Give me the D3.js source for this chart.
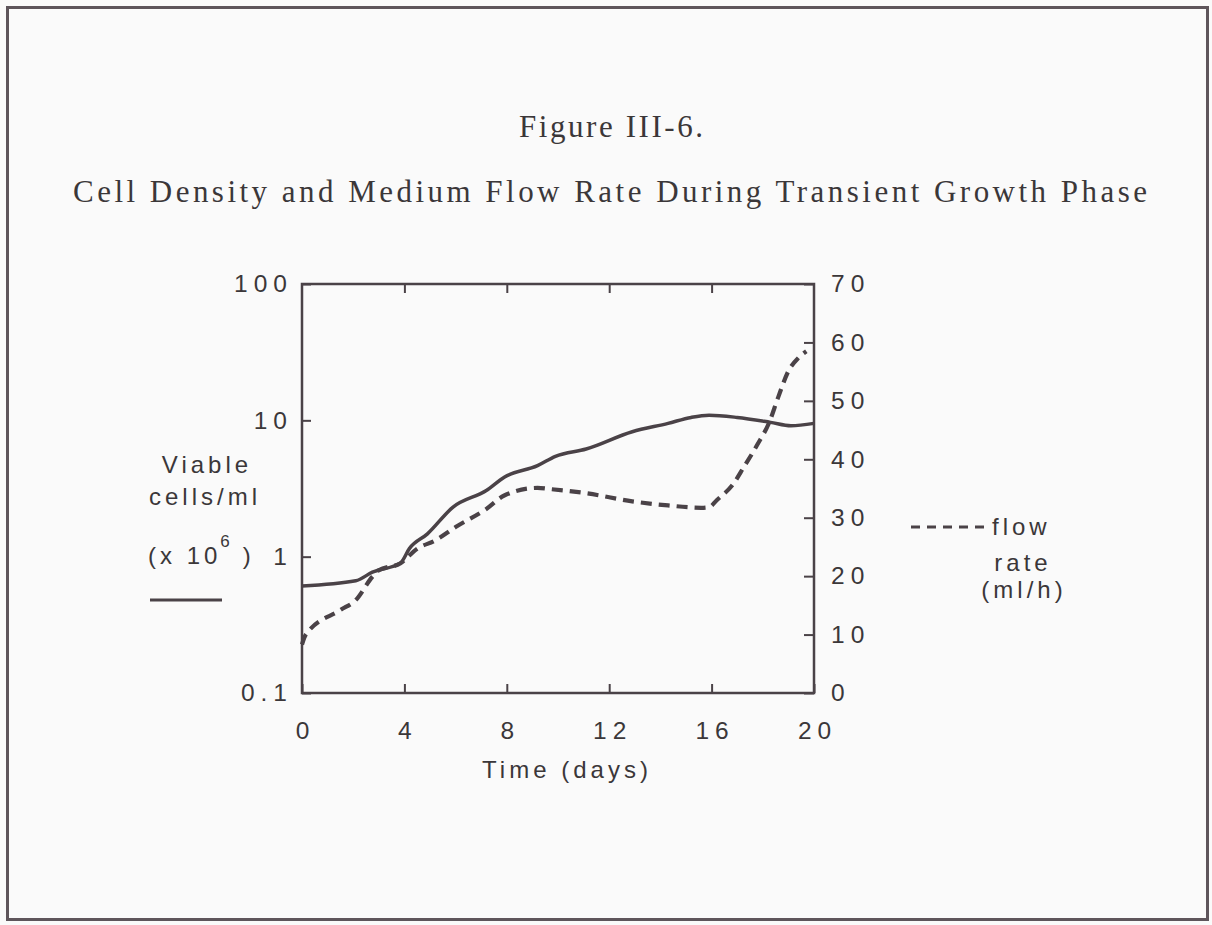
<!DOCTYPE html>
<html>
<head>
<meta charset="utf-8">
<script src="https://cdn.jsdelivr.net/npm/d3@7"></script>
<style>
  html, body { margin: 0; padding: 0; background: #fafafa; }
  svg { display: block; }
</style>
</head>
<body>
<svg id="chart" width="1212" height="925"></svg>
<script>
// Viable cell density (x 10^6 cells/ml) by day
const densityDays   = [0, 2.1, 2.75, 3.85, 4.2, 4.9, 5.9, 7.2, 7.9, 9.2, 9.9, 11.1, 12.9, 14.3, 15.2, 15.9, 17.0, 18.3, 19.1, 20];
const densityValues = [0.61, 0.665, 0.77, 0.90, 1.15, 1.47, 2.31, 3.06, 3.83, 4.65, 5.45, 6.16, 8.25, 9.5, 10.5, 10.9, 10.5, 9.66, 9.12, 9.5];

// Medium flow rate (ml/h) by day
const flowDays   = [0, 0.15, 1.5, 2.1, 2.75, 3.0, 3.85, 4.5, 5.2, 6.0, 7.2, 7.9, 9.2, 9.7, 11.1, 12.9, 14.3, 15.6, 15.9, 16.2, 16.85, 17.25, 17.8, 18.25, 18.6, 19.0, 19.4, 19.7];
const flowValues = [8.3, 10.0, 14.2, 15.9, 19.9, 21.0, 22.2, 24.7, 26.1, 28.4, 31.5, 33.8, 35.1, 34.9, 34.2, 32.8, 32.1, 31.7, 31.8, 33.0, 35.8, 38.6, 42.6, 46.3, 50.6, 55.1, 57.4, 58.5];

// Axis ticks
const dayTicks     = [0, 4, 8, 12, 16, 20];
const densityTicks = [0.1, 1, 10, 100];
const densityLabels = ["0.1", "1", "10", "100"];
const flowTicks    = [0, 10, 20, 30, 40, 50, 60, 70];

const INK = "#4a4247";
const TEXT = "#3b3739";
const SANS = "'Liberation Sans', Arial, Helvetica, sans-serif";
const SERIF = "'Liberation Serif', 'DejaVu Serif', serif";

const svg = d3.select("#chart");

svg.append("rect").attr("x", 0).attr("y", 0).attr("width", 1212).attr("height", 925).attr("fill", "#fafafa");

// page border
svg.append("rect")
  .attr("x", 7.5).attr("y", 7.5).attr("width", 1200).attr("height", 912)
  .attr("fill", "none").attr("stroke", "#5e555b").attr("stroke-width", 3);

// titles
svg.append("text")
  .attr("x", 611).attr("y", 137)
  .attr("text-anchor", "middle")
  .attr("font-family", SERIF).attr("font-size", 31).attr("fill", TEXT)
  .attr("textLength", 184).attr("lengthAdjust", "spacing")
  .text("Figure III-6.");

svg.append("text")
  .attr("x", 610).attr("y", 202)
  .attr("text-anchor", "middle")
  .attr("font-family", SERIF).attr("font-size", 31).attr("fill", TEXT)
  .attr("textLength", 1074).attr("lengthAdjust", "spacing")
  .text("Cell Density and Medium Flow Rate During Transient Growth Phase");

// plot area
const plot = { left: 302, right: 814, top: 284, bottom: 693 };

const x = d3.scaleLinear().domain([0, 20]).range([plot.left, plot.right]);
const yCells = d3.scaleLog().domain([0.1, 100]).range([plot.bottom, plot.top]);
const yFlow = d3.scaleLinear().domain([0, 70]).range([plot.bottom, plot.top]);

const g = svg.append("g");

function styleAxis(sel, ls) {
  sel.select(".domain").remove();
  sel.selectAll(".tick line").attr("stroke", INK).attr("stroke-width", 2);
  sel.selectAll(".tick text")
    .attr("font-family", SANS).attr("font-size", 24.5).attr("fill", TEXT)
    .attr("letter-spacing", ls);
}

// left axis: cell density (log)
g.append("g")
  .attr("transform", `translate(${plot.left},0)`)
  .call(d3.axisLeft(yCells).tickValues(densityTicks)
    .tickFormat((d, i) => densityLabels[i]).tickSize(-9).tickPadding(9))
  .call(s => styleAxis(s, 6));

// right axis: flow rate
g.append("g")
  .attr("transform", `translate(${plot.right},0)`)
  .call(d3.axisRight(yFlow).tickValues(flowTicks).tickSize(-10).tickPadding(17))
  .call(s => styleAxis(s, 6));

// bottom axis: time
g.append("g")
  .attr("transform", `translate(0,${plot.bottom})`)
  .call(d3.axisBottom(x).tickValues(dayTicks).tickSize(-9).tickPadding(29))
  .call(s => styleAxis(s, 6))
  .call(s => s.selectAll(".tick text").attr("dx", 3));

// top axis: tick marks only
g.append("g")
  .attr("transform", `translate(0,${plot.top})`)
  .call(d3.axisTop(x).tickValues(dayTicks.slice(1, -1)).tickSize(-9).tickFormat(""))
  .call(s => styleAxis(s, 0));

// frame
g.append("rect")
  .attr("x", plot.left).attr("y", plot.top)
  .attr("width", plot.right - plot.left).attr("height", plot.bottom - plot.top)
  .attr("fill", "none").attr("stroke", INK).attr("stroke-width", 2.5);

// series
const density = densityDays.map((d, i) => [d, densityValues[i]]);
const flow = flowDays.map((d, i) => [d, flowValues[i]]);

g.append("path")
  .datum(density)
  .attr("fill", "none").attr("stroke", INK).attr("stroke-width", 3.5)
  .attr("stroke-linejoin", "round")
  .attr("d", d3.line().x(d => x(d[0])).y(d => yCells(d[1])).curve(d3.curveMonotoneX));

g.append("path")
  .datum(flow)
  .attr("fill", "none").attr("stroke", INK).attr("stroke-width", 4.2)
  .attr("stroke-dasharray", "11 7")
  .attr("d", d3.line().x(d => x(d[0])).y(d => yFlow(d[1])).curve(d3.curveMonotoneX));

// axis titles
const labels = svg.append("g")
  .attr("font-family", SANS).attr("font-size", 24).attr("fill", TEXT).attr("letter-spacing", 4);

labels.append("text").attr("x", 207).attr("y", 473).attr("text-anchor", "middle").text("Viable");
labels.append("text").attr("x", 205).attr("y", 505).attr("text-anchor", "middle").text("cells/ml");
const unit = labels.append("text").attr("x", 148).attr("y", 564);
unit.append("tspan").text("(x 10");
unit.append("tspan").attr("font-size", 17).attr("dy", -17).attr("dx", -1).text("6");
unit.append("tspan").attr("dy", 17).attr("dx", 9).text(")");

// legend swatch for the solid line
labels.append("line")
  .attr("x1", 150).attr("x2", 222).attr("y1", 600).attr("y2", 600)
  .attr("stroke", INK).attr("stroke-width", 3);

labels.append("text").attr("x", 567).attr("y", 778).attr("text-anchor", "middle").text("Time  (days)");

// legend for the dashed line
labels.append("line")
  .attr("x1", 911).attr("x2", 986).attr("y1", 527).attr("y2", 527)
  .attr("stroke", INK).attr("stroke-width", 3).attr("stroke-dasharray", "9 7");
labels.append("text").attr("x", 992).attr("y", 535).text("flow");
labels.append("text").attr("x", 1023).attr("y", 571).attr("text-anchor", "middle").text("rate");
labels.append("text").attr("x", 1024).attr("y", 598).attr("text-anchor", "middle").text("(ml/h)");
</script>
</body>
</html>
